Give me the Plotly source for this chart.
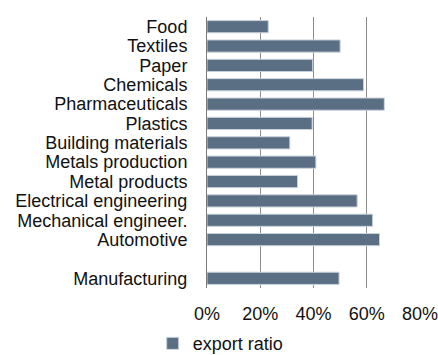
import plotly.graph_objects as go

categories = [
    "Food", "Textiles", "Paper", "Chemicals", "Pharmaceuticals", "Plastics",
    "Building materials", "Metals production", "Metal products",
    "Electrical engineering", "Mechanical engineer.", "Automotive",
    " ", "Manufacturing",
]
export_ratio = [0.23, 0.50, 0.397, 0.588, 0.666, 0.395, 0.311, 0.409, 0.34,
                0.564, 0.622, 0.648, None, 0.496]
x_ticks = [0, 0.2, 0.4, 0.6, 0.8]
x_tick_labels = ["0%", "20%", "40%", "60%", "80%"]

font_family = "Liberation Sans, Arial, sans-serif"

fig = go.Figure(
    go.Bar(
        x=export_ratio,
        y=categories,
        orientation="h",
        name="export ratio",
        marker=dict(color="#5b6f84", line=dict(color="#c9d2db", width=1)),
    )
)

fig.update_layout(
    width=438,
    height=355,
    margin=dict(l=207, r=18, t=17, b=67, autoexpand=False),
    paper_bgcolor="white",
    plot_bgcolor="white",
    font=dict(family=font_family, size=18, color="#111"),
    bargap=0.37,
    showlegend=True,
    legend=dict(
        orientation="h",
        x=-0.255, xanchor="left",
        yref="container",
        y=0.032, yanchor="middle",
        font=dict(size=18),
        itemwidth=30,
    ),
)

fig.update_xaxes(
    range=[0, 0.8],
    tickvals=x_ticks,
    ticktext=x_tick_labels,
    showgrid=True,
    gridcolor="#8c8c8c",
    gridwidth=1,
    zeroline=False,
    showline=False,
    ticks="",
    ticklabelstandoff=13,
    ticklabeloverflow="allow",
)

fig.update_yaxes(
    categoryorder="array",
    categoryarray=categories,
    tickmode="array",
    tickvals=categories,
    autorange="reversed",
    showline=True,
    linecolor="#7a7a7a",
    linewidth=1,
    ticks="",
    ticklabelstandoff=15,
    showgrid=False,
)

fig.write_html("out.html")
